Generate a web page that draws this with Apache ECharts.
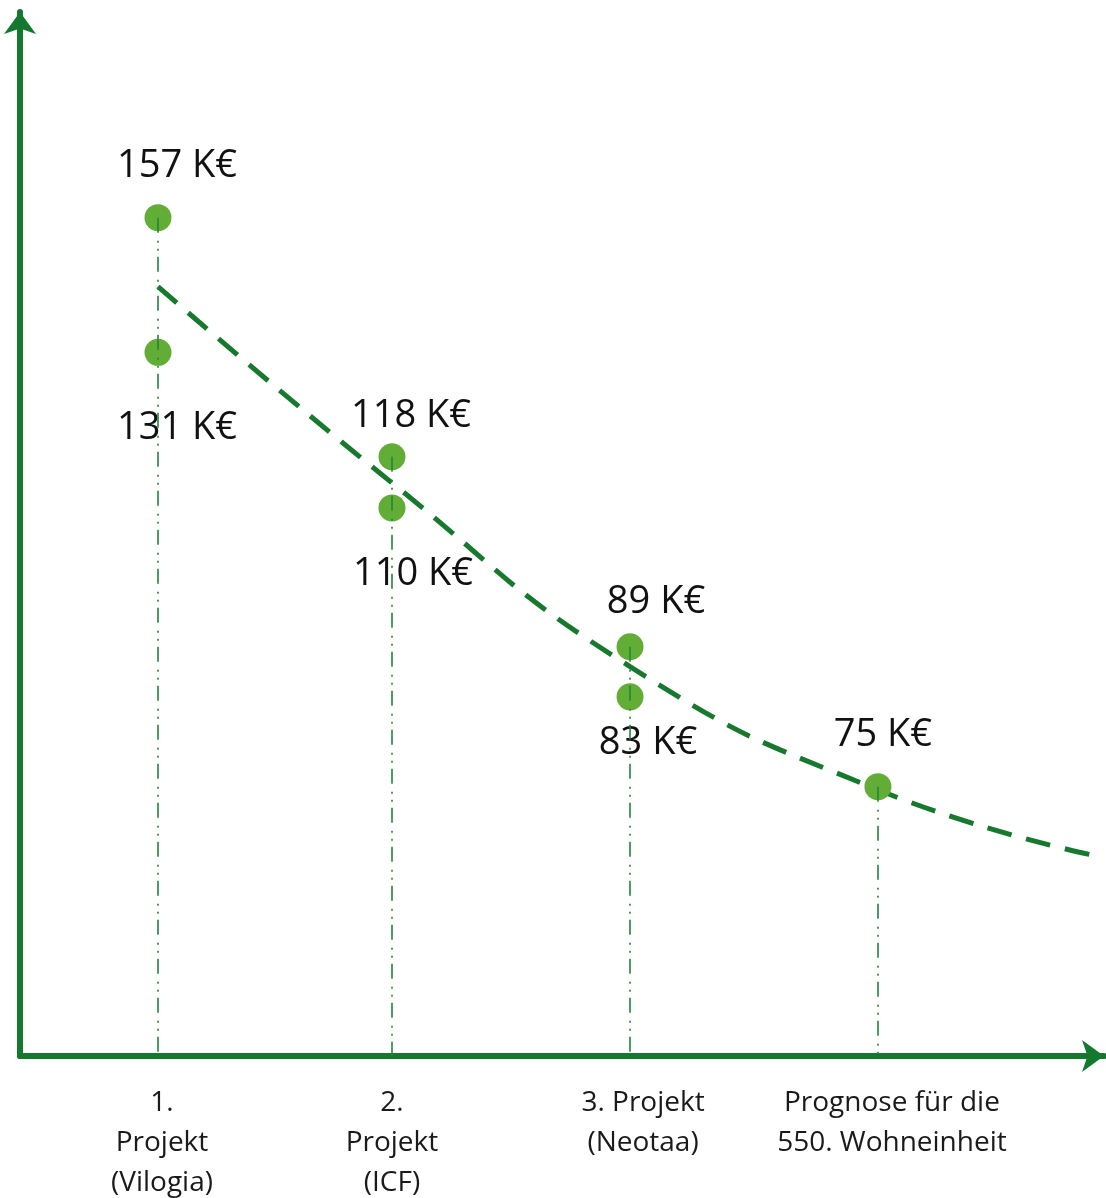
<!DOCTYPE html>
<html>
<head>
<meta charset="utf-8">
<script src="https://cdn.jsdelivr.net/npm/echarts@6/dist/echarts.min.js"></script>
<style>
  html, body { margin: 0; padding: 0; background: #fff; }
  #main { width: 1106px; height: 1198px; }
</style>
</head>
<body>
<div id="main"></div>
<script>
// project positions along the x axis and their labels
const projectPos = [1, 1.975, 2.967, 4];
const categories = ['1.\nProjekt\n(Vilogia)', '2.\nProjekt\n(ICF)', '3. Projekt\n(Neotaa)', 'Prognose für die\n550. Wohneinheit'];

// costs in K€ (label values) and the height they are drawn at in the schematic (0-100)
const upperCost = [157, 118, 89, 75];
const upperLevel = [80.3, 57.4, 39.2, 25.8];
const lowerCost = [131, 110, 83];
const lowerLevel = [67.4, 52.5, 34.4];

// dashed trend curve
const trendX = [1, 1.975, 2.967, 4, 4.883];
const trendLevel = [73.7, 54.9, 37.3, 25.5, 19.3];

const axisGreen = '#13792f';
const dotGreen = '#62ad35';
const textColor = '#111';

const chart = echarts.init(document.getElementById('main'), null, { renderer: 'canvas' });

// label offsets (from point centre) for each point
const upperOffsets = [[19, -51], [19, -41], [26, -45], [5, -51]];
const lowerOffsets = [[19, 76], [21, 66], [18, 46]];
const richKeys = ['a', 'b', 'c', 'd'];

const option = {
  backgroundColor: '#fff',
  animation: false,
  grid: { left: 20, right: 2, top: 12, bottom: 142, outerBoundsMode: 'none', containLabel: false },
  xAxis: {
    type: 'value',
    min: 0.425,
    max: 4.942,
    splitLine: { show: false },
    axisTick: { show: false },
    axisLine: {
      show: true,
      onZero: false,
      symbol: ['none', 'arrow'],
      symbolSize: [24, 22],
      lineStyle: { color: axisGreen, width: 6 }
    },
    axisLabel: {
      customValues: projectPos,
      margin: 27,
      color: '#1a1a1a',
      fontFamily: 'Open Sans',
      fontSize: 28,
      lineHeight: 40,
      verticalAlign: 'top',
      formatter: function (v) {
        const i = projectPos.indexOf(v);
        if (i < 0) return '';
        const k = richKeys[i];
        return categories[i].split('\n').map(s => '{' + k + '|' + s + '}').join('\n');
      },
      rich: {
        a: { fontFamily: 'Open Sans', fontSize: 28, lineHeight: 40, color: '#1a1a1a', padding: [0, 0, 0, 8] },
        b: { fontFamily: 'Open Sans', fontSize: 28, lineHeight: 40, color: '#1a1a1a' },
        c: { fontFamily: 'Open Sans', fontSize: 28, lineHeight: 40, color: '#1a1a1a', padding: [0, 0, 0, 26] },
        d: { fontFamily: 'Open Sans', fontSize: 28, lineHeight: 40, color: '#1a1a1a', padding: [0, 0, 0, 28] }
      }
    }
  },
  yAxis: {
    type: 'value',
    min: 0,
    max: 100,
    splitLine: { show: false },
    axisTick: { show: false },
    axisLabel: { show: false },
    axisLine: {
      show: true,
      onZero: false,
      symbol: ['none', 'arrow'],
      symbolSize: [24, 22],
      lineStyle: { color: axisGreen, width: 6 }
    }
  },
  series: [
    {
      // vertical dash-dot-dot drop lines
      type: 'line',
      data: [],
      z: 1,
      markLine: {
        silent: true,
        symbol: 'none',
        label: { show: false },
        lineStyle: { color: '#23843a', width: 1.6, type: [15, 8, 2, 6, 2, 6] },
        data: projectPos.map((x, i) => [
          { coord: [x, upperLevel[i]] },
          { coord: [x, 0] }
        ])
      }
    },
    {
      type: 'line',
      smooth: true,
      showSymbol: false,
      z: 2,
      data: trendX.map((x, i) => [x, trendLevel[i]]),
      lineStyle: { color: '#17792e', width: 5, type: [25, 15] }
    },
    {
      type: 'scatter',
      z: 3,
      symbolSize: 27,
      itemStyle: { color: dotGreen, opacity: 1 },
      label: {
        show: true,
        position: 'inside',
        color: textColor,
        fontFamily: 'Open Sans',
        fontSize: 38
      },
      data: projectPos.map((x, i) => ({
        value: [x, upperLevel[i]],
        label: { offset: upperOffsets[i], formatter: upperCost[i] + ' K€' }
      }))
    },
    {
      type: 'scatter',
      z: 3,
      symbolSize: 27,
      itemStyle: { color: dotGreen, opacity: 1 },
      label: {
        show: true,
        position: 'inside',
        color: textColor,
        fontFamily: 'Open Sans',
        fontSize: 38
      },
      data: lowerCost.map((c, i) => ({
        value: [projectPos[i], lowerLevel[i]],
        label: { offset: lowerOffsets[i], formatter: c + ' K€' }
      }))
    }
  ]
};

chart.setOption(option);
</script>
</body>
</html>
